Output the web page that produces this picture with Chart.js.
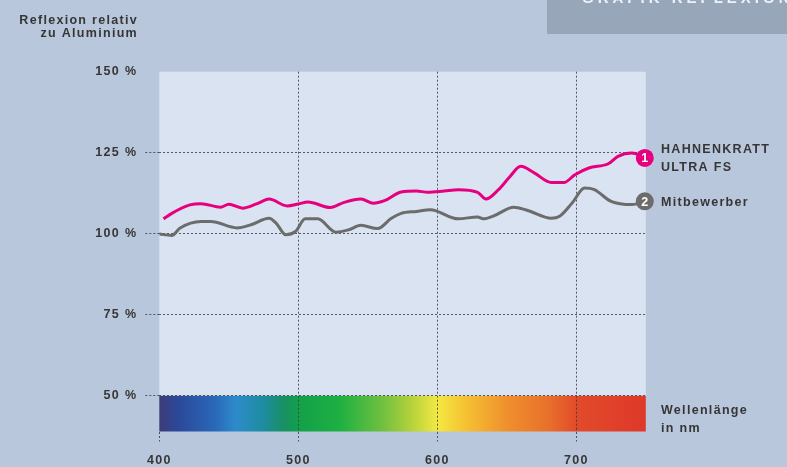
<!DOCTYPE html>
<html><head><meta charset="utf-8">
<script src="https://cdn.jsdelivr.net/npm/chart.js@4/dist/chart.umd.min.js"></script>
<style>html,body{margin:0;padding:0;background:#b9c7dc;}#wrap{width:787px;height:467px;position:relative;overflow:hidden}</style>
</head><body><div id="wrap"><canvas id="c" width="787" height="467"></canvas></div>
<script>
// ---- data ----
const hahnWl  = [403, 409, 422, 430, 444, 450, 460, 470, 479, 492, 500, 507, 523, 533, 545, 554, 562, 574, 585, 593, 605, 615, 629, 635, 644, 652, 660, 670, 682, 691, 699, 709, 723, 730, 740, 747, 750];
const hahnVal = [104.6,106.3,108.9,109.3,108.2,109.1,107.9,109.2,110.7,108.6,109.2,109.8,108.1,109.7,110.7,109.4,110.2,112.9,113.2,112.8,113.2,113.6,112.8,110.7,113.6,117.5,120.8,118.7,115.8,115.8,118.2,120.3,121.6,123.9,124.9,124.0,123.4];
const mitWl   = [400, 409, 415, 430, 437, 456, 466, 479, 484, 491, 498, 505, 514, 527, 536, 545, 557, 567, 574, 585, 595, 615, 629, 633, 641, 655, 665, 682, 688, 697, 706, 713, 725, 740, 750];
const mitVal  = [99.9, 99.5, 101.8,103.8,103.8,101.8,102.8,104.8,103.3,99.7, 100.7,104.6,104.6,100.5,101.2,102.6,101.6,104.8,106.3,106.9,107.4,104.6,105.2,104.6,105.6,108.2,107.2,104.8,105.4,109.5,114.1,113.6,110.0,109.0,110.0];
const seriesLabels = [["HAHNENKRATT", "ULTRA FS"], ["Mitbewerber"]];
const xTicks = [400, 500, 600, 700];
const yTicks = [50, 75, 100, 125, 150];
const yTitle = ["Reflexion relativ", "zu Aluminium"];
const xTitle = ["Wellenlänge", "in nm"];
const headline = "GRAFIK REFLEXION";
const spectrumStops = [[400,'#3b3c78'],[415,'#2b4a9c'],[440,'#2a68b8'],[455,'#2e8bcb'],[475,'#1d8ca0'],[490,'#189062'],[500,'#13a04a'],[530,'#1eb042'],[560,'#6ec040'],[580,'#b0d03a'],[600,'#f3e842'],[620,'#f5c232'],[650,'#ef902d'],[680,'#e8702b'],[700,'#e14b2a'],[750,'#df382a']];

const TXT = '#363636';
const FONT = '"Liberation Sans", Arial, sans-serif';
const DOT = 'rgba(55,55,60,0.8)';

const decor = {
  id: 'decor',
  beforeDraw(chart) {
    const {ctx, chartArea: a, scales: {x, y}} = chart;
    ctx.save();
    ctx.fillStyle = '#b9c7dc';
    ctx.fillRect(0, 0, chart.width, chart.height);
    ctx.fillStyle = '#98a6ba';
    ctx.fillRect(547, 0, 240, 34);
    ctx.fillStyle = '#eef2f8';
    ctx.font = 'bold 15px ' + FONT;
    ctx.letterSpacing = '4px';
    ctx.textBaseline = 'alphabetic';
    ctx.fillText(headline, 582, 3);
    const y50 = y.getPixelForValue(50);
    ctx.fillStyle = '#d9e3f2';
    ctx.fillRect(a.left, a.top, a.right - a.left, y50 - a.top);
    const g = ctx.createLinearGradient(x.getPixelForValue(400), 0, x.getPixelForValue(750), 0);
    spectrumStops.forEach(([nm, c]) => g.addColorStop((nm - 400) / 350, c));
    ctx.fillStyle = g;
    ctx.fillRect(a.left, y50, a.right - a.left, a.bottom - y50);
    ctx.restore();
    ctx.letterSpacing = '1.3px';
  },
  afterDatasetsDraw(chart) {
    const {ctx} = chart;
    ctx.save();
    ctx.letterSpacing = '1.3px';
    ctx.font = 'bold 12.5px ' + FONT;
    ctx.fillStyle = TXT;
    ctx.textAlign = 'right';
    ctx.textBaseline = 'alphabetic';
    ctx.fillText(yTitle[0], 138, 24);
    ctx.fillText(yTitle[1], 138, 37);
    ctx.textAlign = 'left';
    ctx.fillText(xTitle[0], 661, 414);
    ctx.fillText(xTitle[1], 661, 432);
    chart.data.datasets.forEach((ds, i) => {
      const meta = chart.getDatasetMeta(i);
      const p = meta.data[meta.data.length - 1];
      ctx.beginPath();
      ctx.arc(p.x - 1, p.y, 9, 0, Math.PI * 2);
      ctx.fillStyle = ds.borderColor;
      ctx.fill();
      ctx.fillStyle = '#ffffff';
      ctx.textAlign = 'center';
      ctx.textBaseline = 'middle';
      ctx.letterSpacing = '0px';
      ctx.fillText(String(i + 1), p.x - 1, p.y + 1);
      ctx.letterSpacing = '1.3px';
      ctx.fillStyle = TXT;
      ctx.textAlign = 'left';
      ctx.textBaseline = 'alphabetic';
      const lines = seriesLabels[i];
      const startY = lines.length === 2 ? p.y - 5 : p.y + 5;
      lines.forEach((t, k) => ctx.fillText(t, 661, startY + k * 18));
    });
    ctx.restore();
  }
};

const gridColor = (hide) => (c) => (c.tick && c.tick.value === hide) ? 'rgba(0,0,0,0)' : DOT;

new Chart(document.getElementById('c'), {
  type: 'line',
  data: {
    datasets: [
      {data: hahnWl.map((v, i) => ({x: v, y: hahnVal[i]})), borderColor: '#e6007e', borderWidth: 3, pointRadius: 0, cubicInterpolationMode: 'monotone', fill: false},
      {data: mitWl.map((v, i) => ({x: v, y: mitVal[i]})), borderColor: '#6c6c6c', borderWidth: 3, pointRadius: 0, cubicInterpolationMode: 'monotone', fill: false}
    ]
  },
  options: {
    responsive: false,
    animation: false,
    devicePixelRatio: 1,
    layout: {padding: {left: 0, right: 141.2, top: 71.7, bottom: 0}},
    plugins: {legend: {display: false}, tooltip: {enabled: false}},
    scales: {
      x: {
        type: 'linear', min: 400, max: 750,
        afterBuildTicks: s => { s.ticks = xTicks.map(v => ({value: v})); },
        afterFit: s => { s.height = 35.5; },
        grid: {color: gridColor(400), tickColor: DOT, tickLength: 10, lineWidth: 1, tickBorderDash: [2, 2]},
        border: {display: false, dash: [2, 2]},
        ticks: {color: TXT, font: {family: FONT, size: 12.5, weight: 'bold'}, padding: 12, maxRotation: 0, autoSkip: false}
      },
      y: {
        type: 'linear', min: 39, max: 150,
        afterBuildTicks: s => { s.ticks = yTicks.map(v => ({value: v})); },
        afterFit: s => { s.width = 159.3; },
        grid: {color: gridColor(150), tickColor: gridColor(150), tickLength: 14, lineWidth: 1, tickBorderDash: [2, 2]},
        border: {display: false, dash: [2, 2]},
        ticks: {color: TXT, font: {family: FONT, size: 12.5, weight: 'bold'}, padding: 8, callback: v => v + ' %'}
      }
    }
  },
  plugins: [decor]
});
</script>
</body></html>
